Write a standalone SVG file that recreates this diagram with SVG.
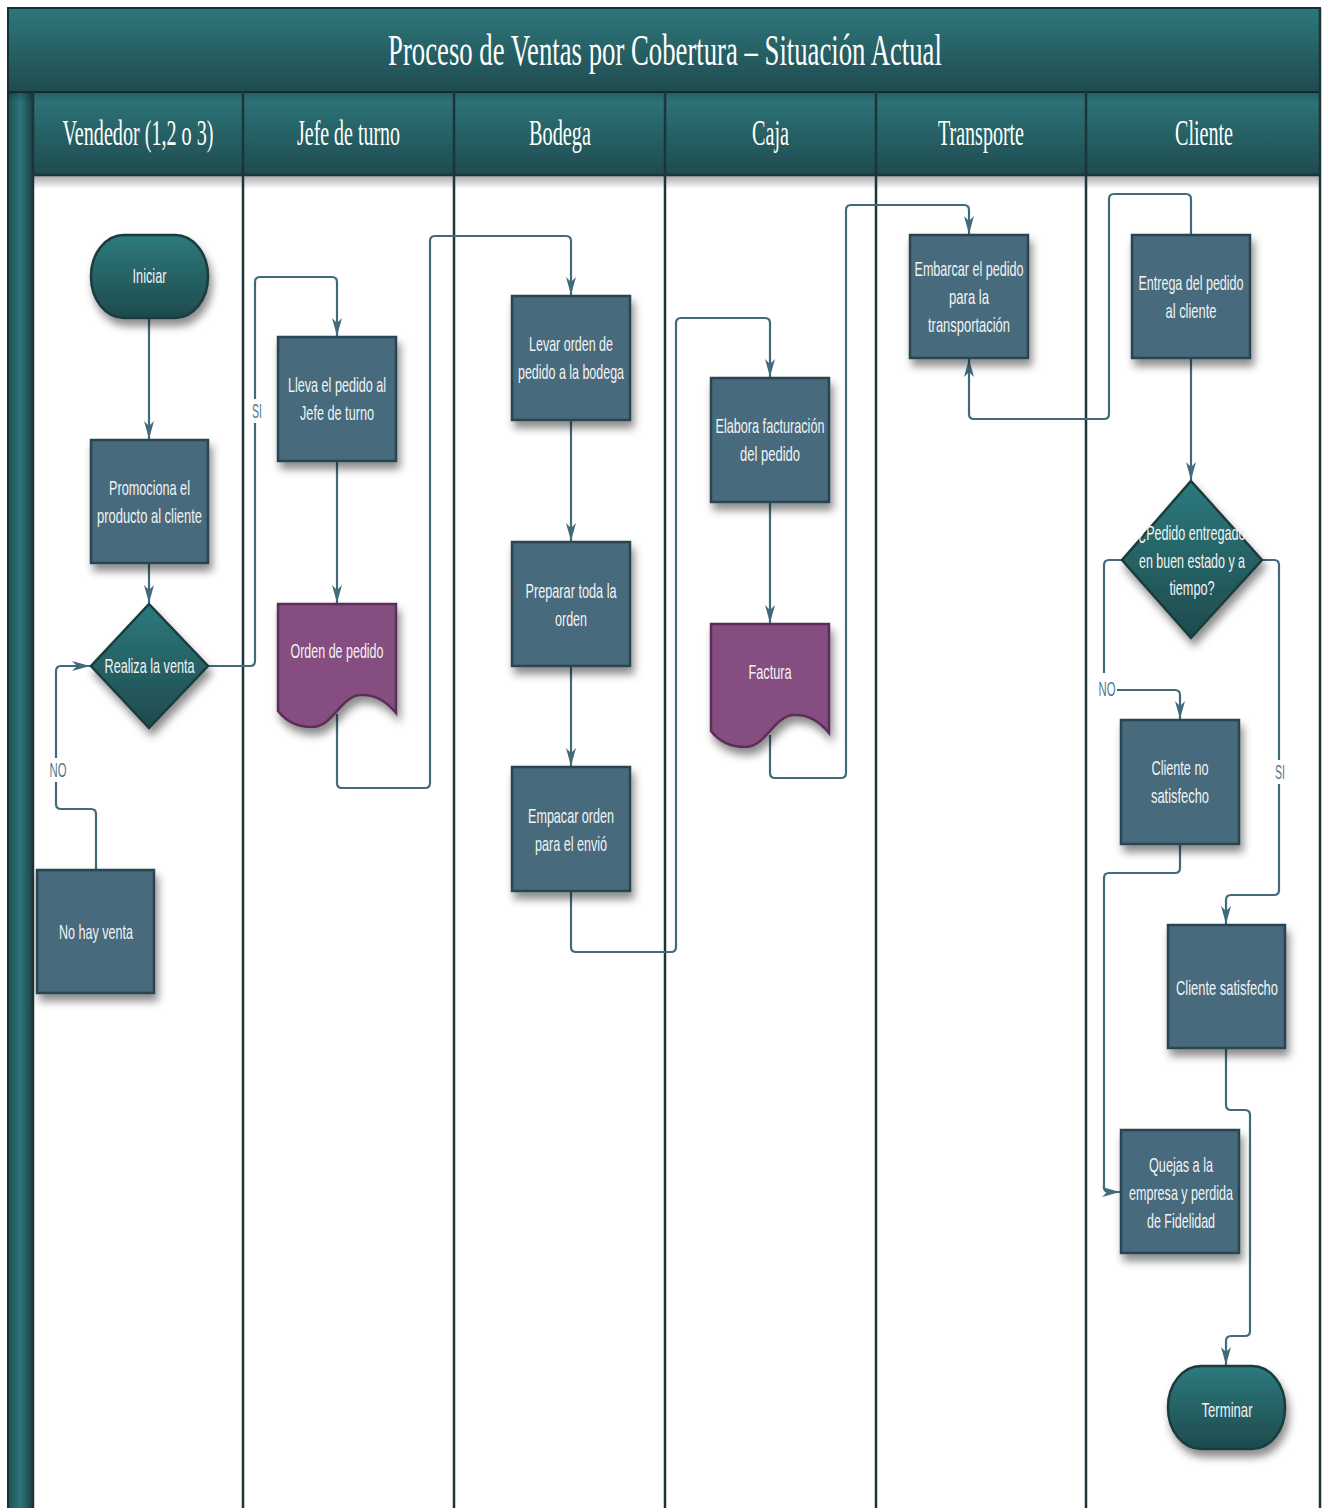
<svg xmlns="http://www.w3.org/2000/svg" width="1324" height="1508" viewBox="0 0 1324 1508">
<defs>
<linearGradient id="gBand" x1="0" y1="0" x2="0" y2="1"><stop offset="0" stop-color="#2d777b"/><stop offset="1" stop-color="#1f4b4f"/></linearGradient>
<linearGradient id="gStrip" x1="0" y1="0" x2="1" y2="0"><stop offset="0" stop-color="#1f5155"/><stop offset="0.5" stop-color="#2c7579"/><stop offset="1" stop-color="#1b4043"/></linearGradient>
<linearGradient id="gNode" x1="0" y1="0" x2="0" y2="1"><stop offset="0" stop-color="#2d7a7d"/><stop offset="1" stop-color="#1e4a4d"/></linearGradient>
<linearGradient id="gShadow" x1="0" y1="0" x2="0" y2="1"><stop offset="0" stop-color="#000" stop-opacity="0.35"/><stop offset="1" stop-color="#000" stop-opacity="0"/></linearGradient>
<filter id="sh" x="-20%" y="-20%" width="150%" height="150%"><feDropShadow dx="3" dy="7" stdDeviation="4" flood-color="#000" flood-opacity="0.45"/></filter>
<marker id="arr" markerUnits="userSpaceOnUse" markerWidth="18" markerHeight="12" refX="18" refY="6" orient="auto"><path d="M0,1 L18,6 L0,11 L5,6 Z" fill="#416b7b"/></marker>
<style>
.proc{fill:#466a7b;stroke:#2a4450;stroke-width:2.5}
.term{fill:url(#gNode);stroke:#1a3a3d;stroke-width:2.5}
.doc{fill:#854e80;stroke:#5a2f57;stroke-width:2.5}
.t{font-family:"Liberation Sans",Arial,sans-serif;font-size:20px;fill:#f2f4f5;text-anchor:middle}
.lbl{font-family:"Liberation Sans",Arial,sans-serif;font-size:20px;fill:#4f7a8c;text-anchor:middle}
.hd{font-family:"Liberation Serif","Times New Roman",serif;font-size:36px;fill:#ffffff;text-anchor:middle}
.ttl{font-family:"Liberation Serif","Times New Roman",serif;font-size:44px;fill:#ffffff;text-anchor:middle}
.c{fill:none;stroke:#416b7b;stroke-width:2.2;stroke-linejoin:round}
.ca{fill:none;stroke:#416b7b;stroke-width:2.2;stroke-linejoin:round;marker-end:url(#arr)}
.lane{stroke:#1c3538;stroke-width:2.5}
</style>
</defs>
<rect x="0" y="0" width="1324" height="1508" fill="#ffffff"/>
<g id="frame">
<rect x="8" y="92" width="25" height="1420" fill="url(#gStrip)" stroke="#173032" stroke-width="2"/>
<rect x="33" y="92" width="1287" height="83" fill="url(#gBand)"/>
<rect x="33" y="175" width="1287" height="14" fill="url(#gShadow)"/>
<rect x="8" y="8" width="1312" height="84" fill="url(#gBand)" stroke="#173032" stroke-width="2"/>
<rect x="8" y="92" width="1312" height="10" fill="url(#gShadow)" opacity="0.6"/>
<line class="lane" x1="33" y1="92" x2="33" y2="1508"/>
<line class="lane" x1="243" y1="92" x2="243" y2="1508"/>
<line class="lane" x1="454" y1="92" x2="454" y2="1508"/>
<line class="lane" x1="665" y1="92" x2="665" y2="1508"/>
<line class="lane" x1="876" y1="92" x2="876" y2="1508"/>
<line class="lane" x1="1086" y1="92" x2="1086" y2="1508"/>
<line class="lane" x1="1320" y1="8" x2="1320" y2="1508"/>
<line class="lane" x1="33" y1="175" x2="1320" y2="175"/>
<text class="ttl" transform="translate(665,65) scale(0.6,1)" textLength="923" lengthAdjust="spacingAndGlyphs">Proceso de Ventas por Cobertura – Situación Actual</text>
<text class="hd" transform="translate(138,145) scale(0.62,1)" textLength="243.5" lengthAdjust="spacingAndGlyphs">Vendedor (1,2 o 3)</text>
<text class="hd" transform="translate(348.5,145) scale(0.62,1)" textLength="166" lengthAdjust="spacingAndGlyphs">Jefe de turno</text>
<text class="hd" transform="translate(560,145) scale(0.62,1)" textLength="100" lengthAdjust="spacingAndGlyphs">Bodega</text>
<text class="hd" transform="translate(770.5,145) scale(0.62,1)" textLength="59.7" lengthAdjust="spacingAndGlyphs">Caja</text>
<text class="hd" transform="translate(981,145) scale(0.62,1)" textLength="138.7" lengthAdjust="spacingAndGlyphs">Transporte</text>
<text class="hd" transform="translate(1204,145) scale(0.62,1)" textLength="93.5" lengthAdjust="spacingAndGlyphs">Cliente</text>
</g>
<g id="connectors">
<path class="ca" d="M149,318 V439"/>
<path class="ca" d="M149,563 V603"/>
<path class="ca" d="M208,666 H250 Q255,666 255,661 V282 Q255,277 260,277 H332 Q337,277 337,282 V336"/>
<path class="ca" d="M96,870 V814 Q96,809 91,809 H61 Q56,809 56,804 V671 Q56,666 61,666 H90"/>
<path class="ca" d="M337,461 V603"/>
<path class="ca" d="M337,714 V783 Q337,788 342,788 H425 Q430,788 430,783 V241 Q430,236 435,236 H566 Q571,236 571,241 V295"/>
<path class="ca" d="M571,420 V541"/>
<path class="ca" d="M571,666 V766"/>
<path class="ca" d="M571,891 V947 Q571,952 576,952 H671 Q676,952 676,947 V323 Q676,318 681,318 H765 Q770,318 770,323 V377"/>
<path class="ca" d="M770,502 V623"/>
<path class="ca" d="M770,735 V773 Q770,778 775,778 H841 Q846,778 846,773 V210 Q846,205 851,205 H964 Q969,205 969,210 V234"/>
<path class="ca" d="M1191,235 V199 Q1191,194 1186,194 H1114 Q1109,194 1109,199 V414 Q1109,419 1104,419 H974 Q969,419 969,414 V359"/>
<path class="ca" d="M1191,358 V480"/>
<path class="ca" d="M1122,560 H1109 Q1104,560 1104,565 V685 Q1104,690 1109,690 H1175 Q1180,690 1180,695 V719"/>
<path class="ca" d="M1262,560 H1274 Q1279,560 1279,565 V890 Q1279,895 1274,895 H1231 Q1226,895 1226,900 V924"/>
<path class="ca" d="M1180,844 V868 Q1180,873 1175,873 H1109 Q1104,873 1104,878 V1187 Q1104,1192 1109,1192 H1120"/>
<path class="ca" d="M1226,1048 V1105 Q1226,1110 1231,1110 H1245 Q1250,1110 1250,1115 V1331 Q1250,1336 1245,1336 H1231 Q1226,1336 1226,1341 V1365"/>
<rect x="249" y="399" width="16" height="24" fill="#ffffff"/>
<text class="lbl" transform="translate(257,418) scale(0.62,1)" textLength="16.1" lengthAdjust="spacingAndGlyphs">SI</text>
<rect x="48" y="758" width="20" height="24" fill="#ffffff"/>
<text class="lbl" transform="translate(58,777) scale(0.62,1)" textLength="27.4" lengthAdjust="spacingAndGlyphs">NO</text>
<rect x="1098" y="673" width="19" height="26" fill="#ffffff"/>
<text class="lbl" transform="translate(1107,696) scale(0.62,1)" textLength="27.4" lengthAdjust="spacingAndGlyphs">NO</text>
<rect x="1272" y="760" width="16" height="24" fill="#ffffff"/>
<text class="lbl" transform="translate(1280,779) scale(0.62,1)" textLength="16.1" lengthAdjust="spacingAndGlyphs">SI</text>
</g>
<g id="n-iniciar"><rect class="term" filter="url(#sh)" x="91" y="235" width="117" height="83" rx="33" ry="41"/><text class="t" transform="translate(149.5,283) scale(0.62,1)" textLength="54.8" lengthAdjust="spacingAndGlyphs">Iniciar</text></g>
<g id="n-promociona"><rect class="proc" filter="url(#sh)" x="91" y="440" width="117" height="123"/><text class="t" transform="translate(149.5,495) scale(0.62,1)" textLength="130.6" lengthAdjust="spacingAndGlyphs">Promociona el</text><text class="t" transform="translate(149.5,523) scale(0.62,1)" textLength="169.4" lengthAdjust="spacingAndGlyphs">producto al cliente</text></g>
<g id="n-realiza"><polygon class="term" filter="url(#sh)" points="149,604 208,666 149,728 91,666"/><text class="t" transform="translate(149.5,673) scale(0.62,1)" textLength="145.2" lengthAdjust="spacingAndGlyphs">Realiza la venta</text></g>
<g id="n-nohay"><rect class="proc" filter="url(#sh)" x="37" y="870" width="117" height="123"/><text class="t" transform="translate(96,939) scale(0.62,1)" textLength="119.4" lengthAdjust="spacingAndGlyphs">No hay venta</text></g>
<g id="n-lleva"><rect class="proc" filter="url(#sh)" x="278" y="337" width="118" height="124"/><text class="t" transform="translate(337,392) scale(0.62,1)" textLength="158.1" lengthAdjust="spacingAndGlyphs">Lleva el pedido al</text><text class="t" transform="translate(337,420) scale(0.62,1)" textLength="119.4" lengthAdjust="spacingAndGlyphs">Jefe de turno</text></g>
<g id="n-orden"><path class="doc" filter="url(#sh)" d="M278,604 H396 V713 C388,703 376,694 360,695 C340,697 333,727 312,727 C296,727 285,720 278,711 Z"/><text class="t" transform="translate(337,658) scale(0.62,1)" textLength="150" lengthAdjust="spacingAndGlyphs">Orden de pedido</text></g>
<g id="n-levar"><rect class="proc" filter="url(#sh)" x="512" y="296" width="118" height="124"/><text class="t" transform="translate(571,351) scale(0.62,1)" textLength="135.5" lengthAdjust="spacingAndGlyphs">Levar orden de</text><text class="t" transform="translate(571,379) scale(0.62,1)" textLength="171" lengthAdjust="spacingAndGlyphs">pedido a la bodega</text></g>
<g id="n-preparar"><rect class="proc" filter="url(#sh)" x="512" y="542" width="118" height="124"/><text class="t" transform="translate(571,598) scale(0.62,1)" textLength="146.8" lengthAdjust="spacingAndGlyphs">Preparar toda la</text><text class="t" transform="translate(571,626) scale(0.62,1)" textLength="51.6" lengthAdjust="spacingAndGlyphs">orden</text></g>
<g id="n-empacar"><rect class="proc" filter="url(#sh)" x="512" y="767" width="118" height="124"/><text class="t" transform="translate(571,823) scale(0.62,1)" textLength="138.7" lengthAdjust="spacingAndGlyphs">Empacar orden</text><text class="t" transform="translate(571,851) scale(0.62,1)" textLength="116.1" lengthAdjust="spacingAndGlyphs">para el envió</text></g>
<g id="n-elabora"><rect class="proc" filter="url(#sh)" x="711" y="378" width="118" height="124"/><text class="t" transform="translate(770,433) scale(0.62,1)" textLength="175.8" lengthAdjust="spacingAndGlyphs">Elabora facturación</text><text class="t" transform="translate(770,461) scale(0.62,1)" textLength="96.8" lengthAdjust="spacingAndGlyphs">del pedido</text></g>
<g id="n-factura"><path class="doc" filter="url(#sh)" d="M711,624 H829 V733 C821,723 809,714 793,715 C773,717 766,747 745,747 C729,747 718,740 711,731 Z"/><text class="t" transform="translate(770,679) scale(0.62,1)" textLength="69.4" lengthAdjust="spacingAndGlyphs">Factura</text></g>
<g id="n-embarcar"><rect class="proc" filter="url(#sh)" x="910" y="235" width="118" height="123"/><text class="t" transform="translate(969,276) scale(0.62,1)" textLength="175.8" lengthAdjust="spacingAndGlyphs">Embarcar el pedido</text><text class="t" transform="translate(969,304) scale(0.62,1)" textLength="64.5" lengthAdjust="spacingAndGlyphs">para la</text><text class="t" transform="translate(969,332) scale(0.62,1)" textLength="132.3" lengthAdjust="spacingAndGlyphs">transportación</text></g>
<g id="n-entrega"><rect class="proc" filter="url(#sh)" x="1132" y="235" width="118" height="123"/><text class="t" transform="translate(1191,290) scale(0.62,1)" textLength="169.4" lengthAdjust="spacingAndGlyphs">Entrega del pedido</text><text class="t" transform="translate(1191,318) scale(0.62,1)" textLength="82.3" lengthAdjust="spacingAndGlyphs">al cliente</text></g>
<g id="n-pedidoentregado"><polygon class="term" filter="url(#sh)" points="1191,481 1262,560 1191,638 1122,560"/><text class="t" transform="translate(1192,540) scale(0.62,1)" textLength="172.6" lengthAdjust="spacingAndGlyphs">¿Pedido entregado</text><text class="t" transform="translate(1192,568) scale(0.62,1)" textLength="171" lengthAdjust="spacingAndGlyphs">en buen estado y a</text><text class="t" transform="translate(1192,595) scale(0.62,1)" textLength="72.6" lengthAdjust="spacingAndGlyphs">tiempo?</text></g>
<g id="n-clienteno"><rect class="proc" filter="url(#sh)" x="1121" y="720" width="118" height="124"/><text class="t" transform="translate(1180,775) scale(0.62,1)" textLength="91.9" lengthAdjust="spacingAndGlyphs">Cliente no</text><text class="t" transform="translate(1180,803) scale(0.62,1)" textLength="93.5" lengthAdjust="spacingAndGlyphs">satisfecho</text></g>
<g id="n-clientesat"><rect class="proc" filter="url(#sh)" x="1168" y="925" width="117" height="123"/><text class="t" transform="translate(1227,995) scale(0.62,1)" textLength="164.5" lengthAdjust="spacingAndGlyphs">Cliente satisfecho</text></g>
<g id="n-quejas"><rect class="proc" filter="url(#sh)" x="1121" y="1130" width="118" height="123"/><text class="t" transform="translate(1181,1172) scale(0.62,1)" textLength="103.2" lengthAdjust="spacingAndGlyphs">Quejas a la</text><text class="t" transform="translate(1181,1200) scale(0.62,1)" textLength="167.7" lengthAdjust="spacingAndGlyphs">empresa y perdida</text><text class="t" transform="translate(1181,1228) scale(0.62,1)" textLength="109.7" lengthAdjust="spacingAndGlyphs">de Fidelidad</text></g>
<g id="n-terminar"><rect class="term" filter="url(#sh)" x="1168" y="1366" width="117" height="83" rx="33" ry="41"/><text class="t" transform="translate(1227,1417) scale(0.62,1)" textLength="82.3" lengthAdjust="spacingAndGlyphs">Terminar</text></g>
</svg>
